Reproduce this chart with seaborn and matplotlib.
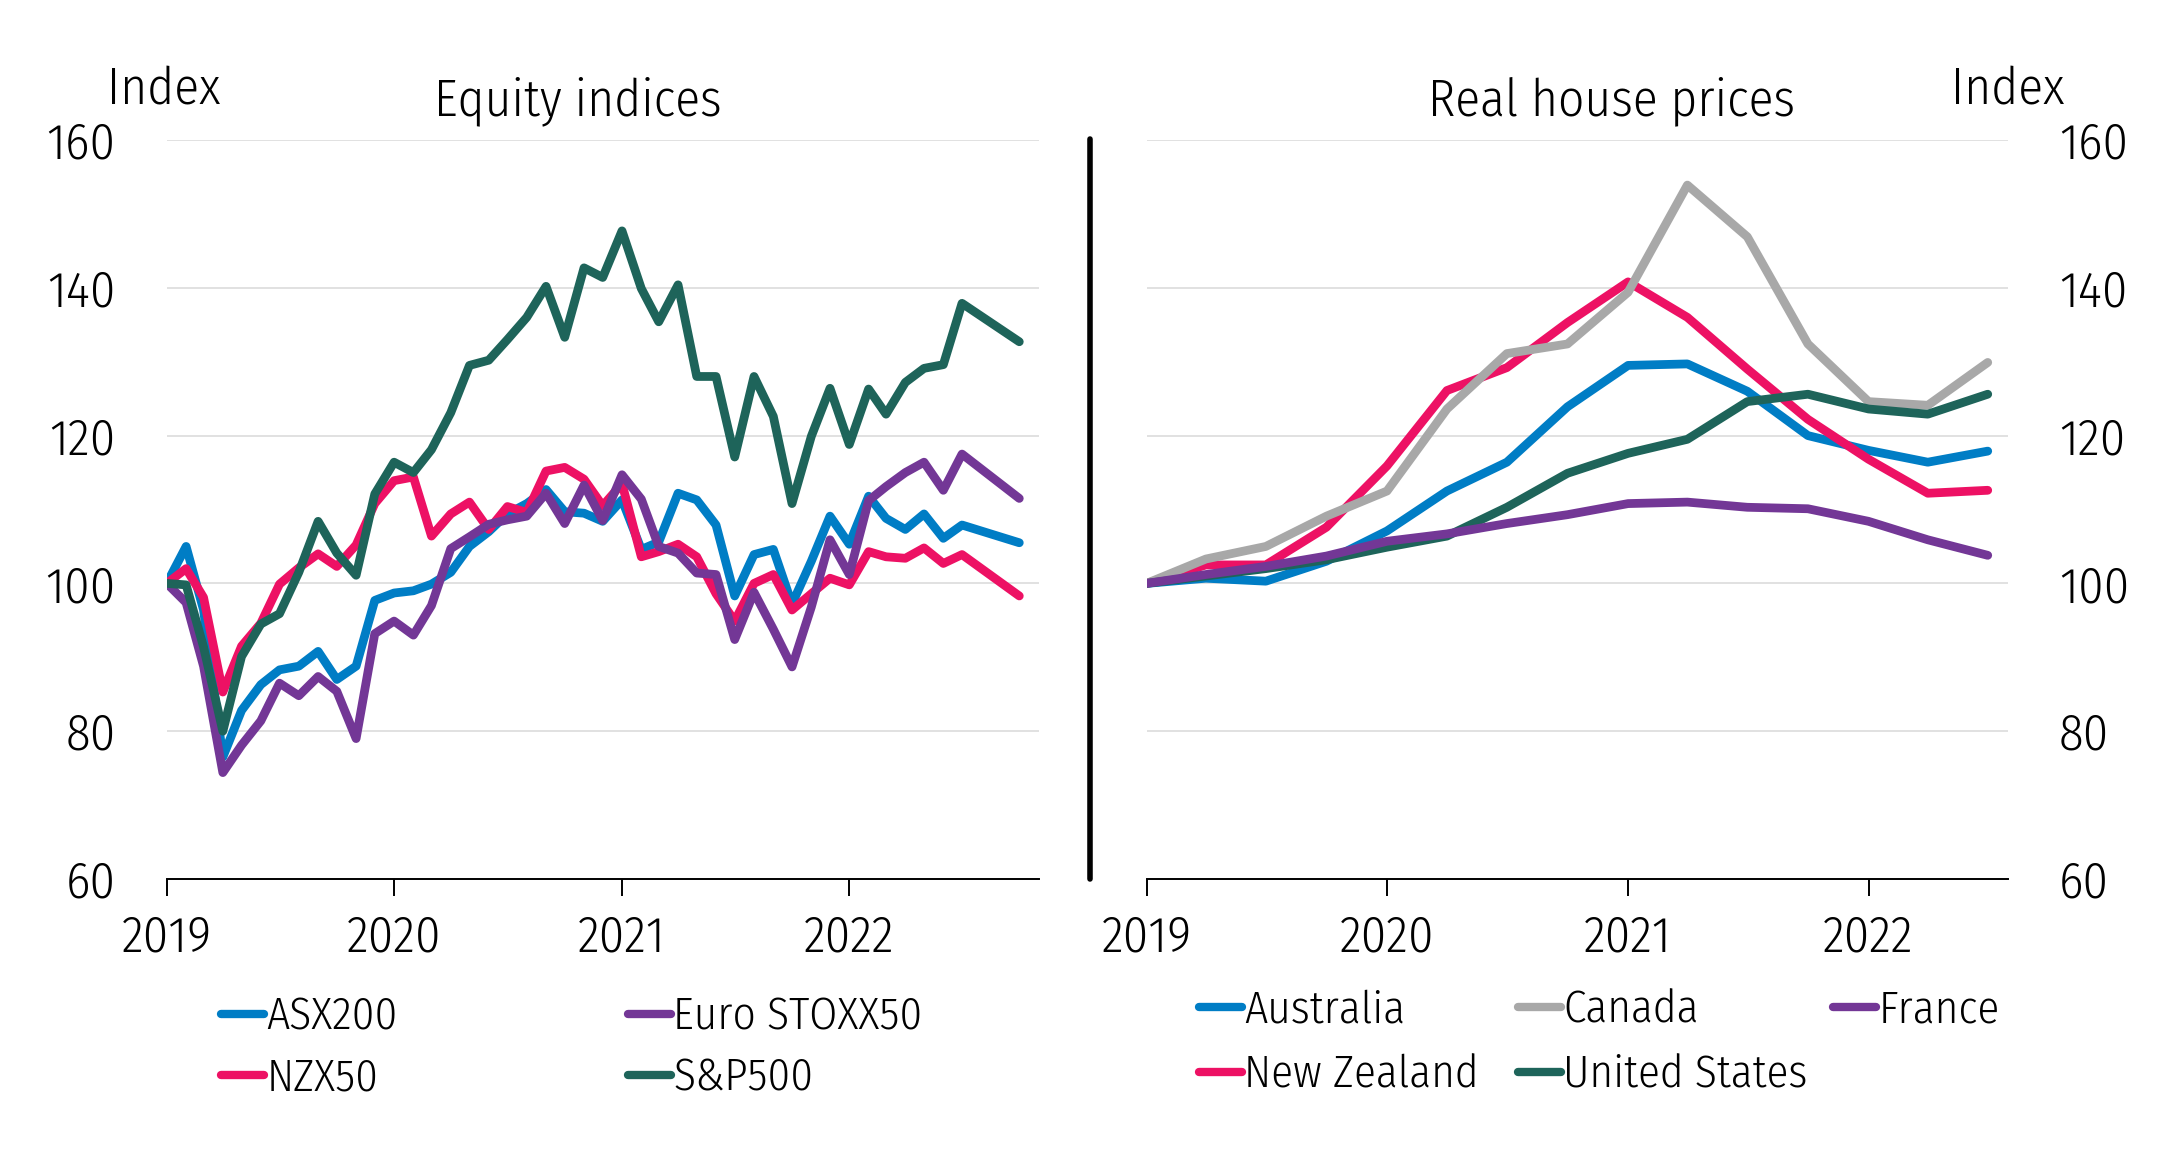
import pandas as pd
import matplotlib
matplotlib.use("Agg")
import matplotlib.pyplot as plt
import matplotlib.dates as mdates
import matplotlib.font_manager as fm
from matplotlib.lines import Line2D
import seaborn as sns

# === Equity indices, monthly (Aug/Sep 2022 not in the series)
equity_start = "2019-01-01"
asx200 = [100.0, 105.0, 96.4, 76.5, 82.8, 86.3, 88.3, 88.8, 90.8, 87.0, 88.8, 97.7,
          98.7, 99.0, 99.9, 101.5, 105.0, 107.0, 109.4, 110.8, 112.7, 109.7, 109.5, 108.4,
          111.3, 104.6, 105.6, 112.2, 111.3, 107.9, 98.3, 103.9, 104.6, 97.2, 103.0, 109.1,
          105.3, 111.8, 108.8, 107.3, 109.4, 106.1, 107.9, None, None, 105.5]
euro_stoxx50 = [100.0, 97.4, 88.8, 74.4, 78.1, 81.4, 86.5, 84.8, 87.4, 85.4, 79.0, 93.2,
                94.9, 93.0, 97.0, 104.7, 106.3, 108.0, 108.6, 109.1, 112.2, 108.1, 113.3, 108.5,
                114.7, 111.4, 105.0, 104.1, 101.4, 101.2, 92.4, 98.8, 93.8, 88.7, 96.8, 105.9,
                101.2, 111.2, 113.1, 115.0, 116.4, 112.6, 117.5, None, None, 111.5]
nzx50 = [100.0, 102.0, 98.1, 85.3, 91.5, 94.6, 99.9, 102.1, 104.0, 102.3, 105.2, 110.8,
         113.9, 114.4, 106.4, 109.4, 111.0, 107.3, 110.4, 109.6, 115.2, 115.7, 114.1, 110.5,
         113.5, 103.6, 104.3, 105.3, 103.6, 98.6, 94.9, 100.0, 101.2, 96.4, 98.6, 100.7,
         99.8, 104.3, 103.6, 103.4, 104.8, 102.7, 103.9, None, None, 98.3]
sp500 = [100.0, 99.8, 91.4, 80.0, 90.1, 94.5, 95.9, 101.5, 108.4, 104.1, 101.1, 112.1,
         116.4, 115.0, 118.1, 123.1, 129.5, 130.2, 133.0, 136.0, 140.2, 133.3, 142.7, 141.4,
         147.7, 139.9, 135.4, 140.4, 128.0, 128.0, 117.1, 128.0, 122.6, 110.8, 119.9, 126.4,
         118.8, 126.3, 122.9, 127.2, 129.1, 129.6, 137.9, None, None, 132.7]

# === Real house prices, quarterly
house_start = "2019-01-01"
australia = [100.0, 100.7, 100.3, 103.0, 107.1, 112.5, 116.4, 123.9, 129.5, 129.7, 126.0, 120.0, 118.0, 116.4, 117.9]
canada = [100.0, 103.3, 105.0, 109.1, 112.5, 123.6, 131.1, 132.4, 139.4, 153.9, 146.9, 132.4, 124.6, 124.1, 129.9]
france = [100.0, 101.2, 102.3, 103.7, 105.7, 106.7, 108.1, 109.3, 110.8, 111.0, 110.3, 110.1, 108.4, 105.9, 103.8]
new_zealand = [100.0, 102.5, 102.5, 107.6, 115.9, 126.1, 129.2, 135.3, 140.8, 136.0, 129.0, 122.2, 116.8, 112.2, 112.6]
united_states = [100.0, 101.0, 102.0, 103.2, 104.9, 106.4, 110.3, 114.9, 117.6, 119.5, 124.6, 125.6, 123.6, 122.9, 125.6]

BLUE, PURPLE, PINK, GREEN, GREY = "#007DC5", "#733796", "#ED1164", "#1E645A", "#A8A8A8"

equity = {"ASX200": asx200, "NZX50": nzx50, "Euro STOXX50": euro_stoxx50, "S&P500": sp500}
equity_colors = {"ASX200": BLUE, "NZX50": PINK, "Euro STOXX50": PURPLE, "S&P500": GREEN}
house = {"Australia": australia, "New Zealand": new_zealand, "Canada": canada,
         "United States": united_states, "France": france}
house_colors = {"Australia": BLUE, "New Zealand": PINK, "Canada": GREY,
                "United States": GREEN, "France": PURPLE}


def to_long(series, start, freq):
    n = len(next(iter(series.values())))
    dates = pd.date_range(start, periods=n, freq=freq)
    frames = [pd.DataFrame({"date": dates, "value": v, "series": k}) for k, v in series.items()]
    return pd.concat(frames).dropna()


def pick_font():
    # narrow, light face close to the reference text; skip families without a light cut
    prefs = ["Open Sans Condensed", "Open Sans Condensed Light", "Fira Sans Condensed",
             "Roboto Condensed", "Encode Sans Condensed", "IBM Plex Sans Condensed",
             "Barlow Semi Condensed"]
    faces = [f for f in fm.fontManager.ttflist if f.style == "normal"]
    wt = lambda f: f.weight if isinstance(f.weight, int) else 400
    for fam in prefs:
        found = [f for f in faces if f.name == fam and abs(wt(f) - 300) <= 100]
        if found:
            best = min(found, key=lambda f: abs(wt(f) - 300))
            return fam, wt(best)
    return "Liberation Sans", 400


df_eq = to_long(equity, equity_start, "MS")
df_hp = to_long(house, house_start, "QS")

sns.set_theme(style="white")
fam, weight = pick_font()
plt.rcParams["font.family"] = [fam, "Liberation Sans", "DejaVu Sans"]
plt.rcParams["font.weight"] = weight
for k in ("text.color", "xtick.color", "ytick.color", "axes.labelcolor"):
    plt.rcParams[k] = "black"
TICK_FS, LEG_FS, TITLE_FS = 36.5, 32.5, 37

fig = plt.figure(figsize=(21.75, 11.55), dpi=100)
W, H = 2175, 1155
y_bot, y_top = 879, 140
ax1 = fig.add_axes([166.8 / W, 1 - y_bot / H, (1038.6 - 166.8) / W, (y_bot - y_top) / H])
ax2 = fig.add_axes([1146.6 / W, 1 - y_bot / H, (2007.5 - 1146.6) / W, (y_bot - y_top) / H])

line_kw = dict(linewidth=6.3, solid_capstyle="round", solid_joinstyle="round")
sns.lineplot(data=df_eq, x="date", y="value", hue="series", palette=equity_colors,
             sort=False, legend=False, ax=ax1, **line_kw)
sns.lineplot(data=df_hp, x="date", y="value", hue="series", palette=house_colors,
             sort=False, legend=False, ax=ax2, **line_kw)

ax1.set_xlim(pd.Timestamp("2019-01-01"), pd.Timestamp("2022-11-01"))
ax2.set_xlim(pd.Timestamp("2019-01-01"), pd.Timestamp("2022-07-31"))

for ax in (ax1, ax2):
    ax.set_ylim(60, 160)
    ax.set_yticks([60, 80, 100, 120, 140, 160])
    ax.set_xlabel("")
    ax.set_ylabel("")
    ax.xaxis.set_major_locator(mdates.YearLocator())
    ax.xaxis.set_major_formatter(mdates.DateFormatter("%Y"))
    ax.yaxis.grid(True, color="#D9D9D9", linewidth=1.1)
    ax.xaxis.grid(False)
    ax.set_axisbelow(True)
    for s in ("left", "right", "top"):
        ax.spines[s].set_visible(False)
    ax.spines["bottom"].set_color("black")
    ax.spines["bottom"].set_linewidth(1.4)
    ax.tick_params(axis="x", direction="out", length=12, width=1.4, color="black",
                   pad=13, labelsize=TICK_FS, bottom=True)
    ax.tick_params(axis="y", length=0, pad=37, labelsize=TICK_FS)

ax2.yaxis.tick_right()

# divider between the panels
fig.add_artist(Line2D([1090 / W, 1090 / W], [1 - 879 / H, 1 - 139 / H],
                      transform=fig.transFigure, color="black", linewidth=4))

# titles and units
fig.text(578 / W, 1 - 115 / H, "Equity indices", ha="center", va="baseline", fontsize=TITLE_FS)
fig.text(1611 / W, 1 - 115 / H, "Real house prices", ha="center", va="baseline", fontsize=TITLE_FS)
fig.text(163.6 / W, 1 - 104 / H, "Index", ha="center", va="baseline", fontsize=TITLE_FS)
fig.text(2008 / W, 1 - 104 / H, "Index", ha="center", va="baseline", fontsize=TITLE_FS)


def legend_column(names, colors, x, y, spacing):
    handles = [Line2D([], [], color=colors[n], linewidth=6, solid_capstyle="round") for n in names]
    leg = fig.legend(handles, names, loc="upper left", bbox_to_anchor=(x / W, 1 - y / H),
                     frameon=False, fontsize=LEG_FS, handlelength=0.95, handletextpad=0.05,
                     borderpad=0, borderaxespad=0, labelspacing=spacing)
    return leg


# === legends, one per column
legend_column(["ASX200", "NZX50"], equity_colors, 221, 996, 0.42)
legend_column(["Euro STOXX50", "S&P500"], equity_colors, 628, 996, 0.42)
legend_column(["Australia", "New Zealand"], house_colors, 1199, 989, 0.5)
legend_column(["Canada", "United States"], house_colors, 1518, 989, 0.5)
legend_column(["France"], house_colors, 1833, 989, 0.5)

fig.savefig("out.png", dpi=100)
